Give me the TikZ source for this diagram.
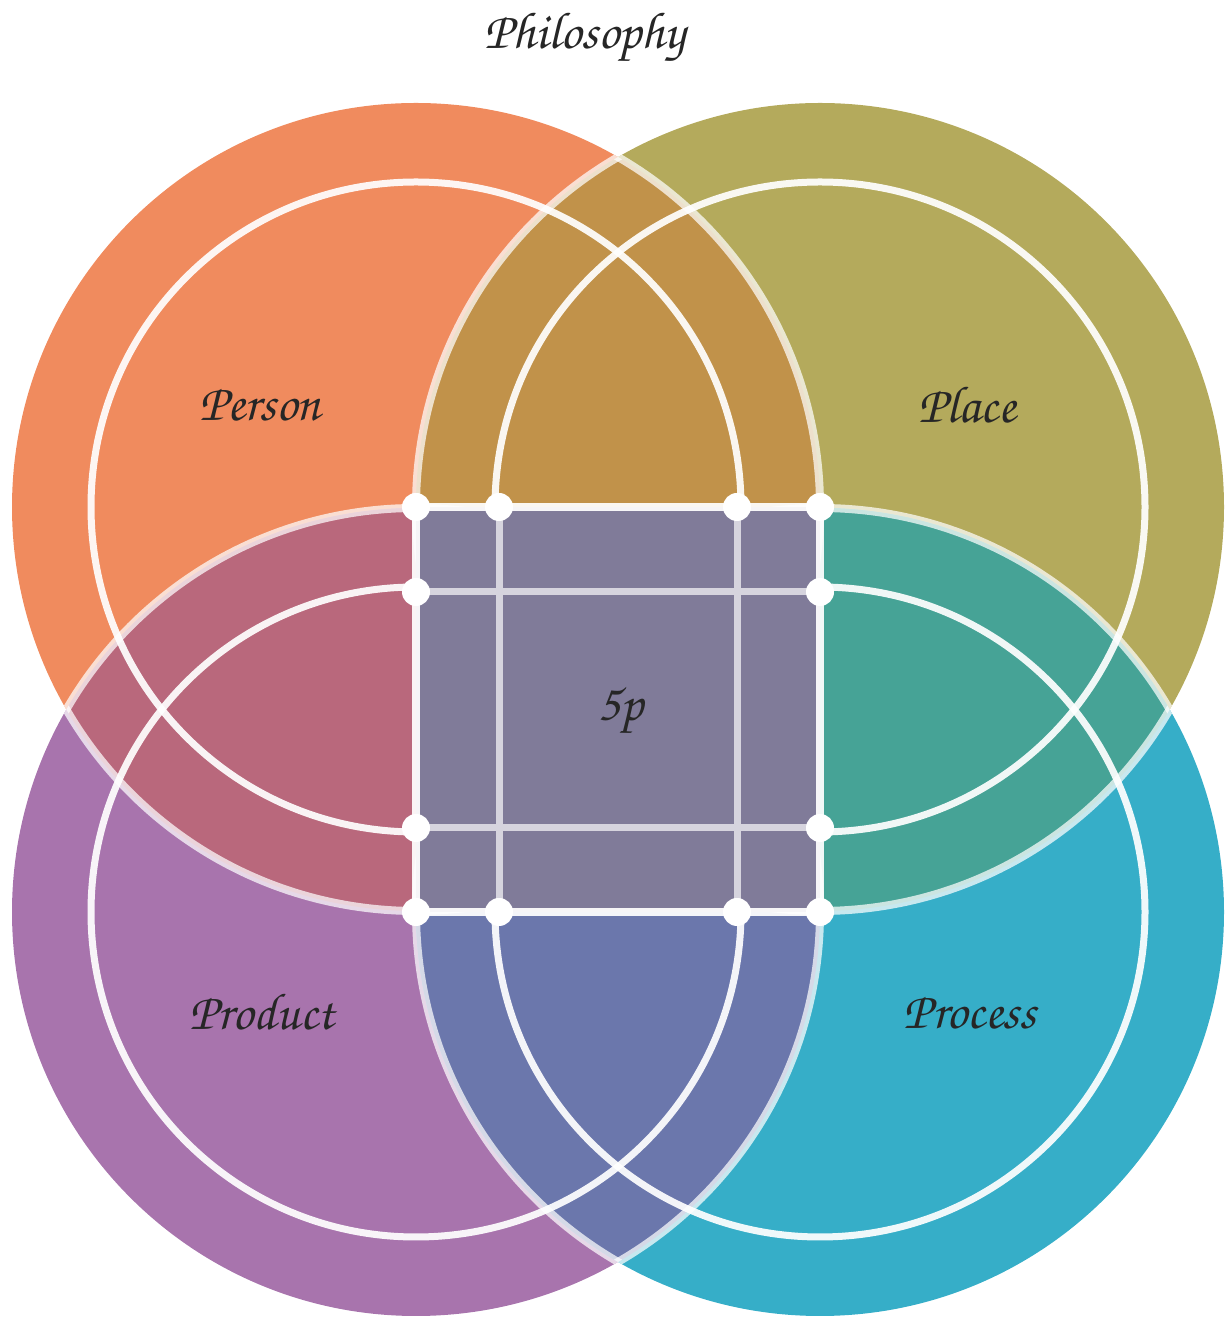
\documentclass[tikz,border=0pt]{standalone}
\usepackage{fontspec}
\newfontfamily\hand{texgyrechorus-mediumitalic.otf}
\definecolor{cA}{RGB}{240,139,94}
\definecolor{cB}{RGB}{180,170,92}
\definecolor{cC}{RGB}{168,116,173}
\definecolor{cD}{RGB}{54,174,200}
\definecolor{cAB}{RGB}{193,146,74}
\definecolor{cAC}{RGB}{185,104,124}
\definecolor{cBD}{RGB}{70,163,150}
\definecolor{cCD}{RGB}{107,119,172}
\definecolor{cM}{RGB}{128,123,153}
\tikzset{
  outerline/.style={draw=white,draw opacity=0.72,line width=8pt},
  innerline/.style={draw=white,draw opacity=0.92,line width=7pt},
  edgeline/.style={draw=white,draw opacity=0.93,line width=8pt},
  gridline/.style={draw=white,draw opacity=0.68,line width=7pt},
  dot/.style={circle,fill=white,inner sep=0pt,minimum size=28pt},
  lbl/.style={font=\hand\fontsize{52}{58}\selectfont,text=black!85}
}
\begin{document}
\begin{tikzpicture}[x=1pt,y=1pt]
\path[use as bounding box] (0,0) rectangle (1229,1320);
\coordinate (A) at (416,813);
\coordinate (B) at (820,813);
\coordinate (C) at (416,408);
\coordinate (D) at (820,408);
\def\R{404}
\def\r{325}
% base circles
\fill[cA] (A) circle[radius=\R];
\fill[cB] (B) circle[radius=\R];
\fill[cC] (C) circle[radius=\R];
\fill[cD] (D) circle[radius=\R];
% pairwise lenses
\begin{scope}\clip (A) circle[radius=\R]; \fill[cAB] (B) circle[radius=\R];\end{scope}
\begin{scope}\clip (A) circle[radius=\R]; \fill[cAC] (C) circle[radius=\R];\end{scope}
\begin{scope}\clip (B) circle[radius=\R]; \fill[cBD] (D) circle[radius=\R];\end{scope}
\begin{scope}\clip (C) circle[radius=\R]; \fill[cCD] (D) circle[radius=\R];\end{scope}
% outer outlines, visible only over the neighbouring circles
\foreach \c/\o in {A/B,A/C,B/A,B/D,C/A,C/D,D/B,D/C}{
  \begin{scope}\clip (\o) circle[radius=\R]; \path[outerline] (\c) circle[radius=\R];\end{scope}
}
\foreach \c in {A,B,C,D}{\path[innerline] (\c) circle[radius=\r];}
% central square
\fill[cM] (C) rectangle (B);
% grid points
\coordinate (t1) at (499,813); \coordinate (t2) at (737,813);
\coordinate (b1) at (499,408); \coordinate (b2) at (737,408);
\coordinate (l1) at (416,728); \coordinate (l2) at (416,492);
\coordinate (r1) at (820,728); \coordinate (r2) at (820,492);
\path[gridline] (t1) -- (b1) (t2) -- (b2) (l1) -- (r1) (l2) -- (r2);
\path[edgeline] (A) -- (B) -- (D) -- (C) -- cycle;
\foreach \p/\n in {A/dA,t1/dt1,t2/dt2,B/dB,l1/dl1,r1/dr1,l2/dl2,r2/dr2,C/dC,b1/db1,b2/db2,D/dD}{
  \node[dot] (\n) at (\p) {};
}
% labels
\node[lbl] (title) at (585,1283) {Philosophy};
\node[lbl] (person) at (260,915) {Person};
\node[lbl] (place) at (967,915) {Place};
\node[lbl] (product) at (262,308) {Product};
\node[lbl] (process) at (970,307) {Process};
\node[lbl] (center) at (620,610) {5p};
\end{tikzpicture}
\end{document}
